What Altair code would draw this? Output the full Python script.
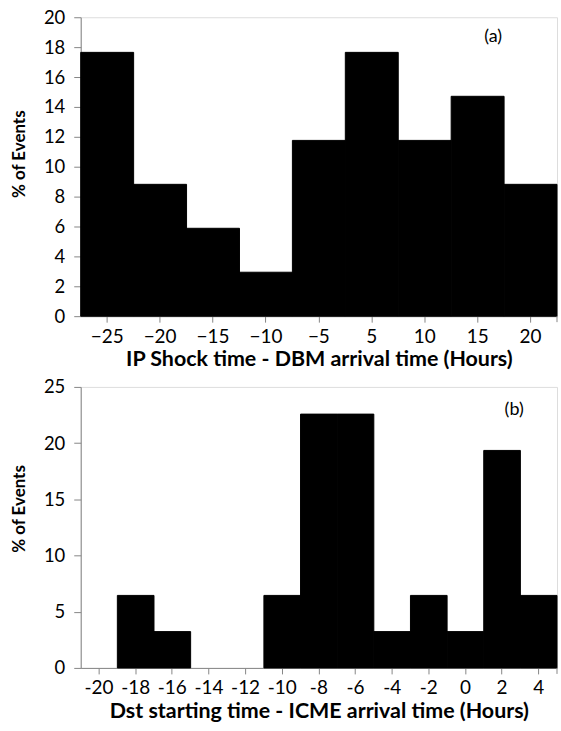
import altair as alt
import pandas as pd

FONT = "Lato"

# Panel (a)
a_cats = ["−25", "−20", "−15", "−10", "−5", "5", "10", "15", "20"]
a_vals = [17.65, 8.82, 5.88, 2.94, 11.76, 17.65, 11.76, 14.71, 8.82]
a_xtitle = "IP Shock time - DBM arrival time (Hours)"
a_tag = "(a)"

# Panel (b)
b_cats = ["-20", "-18", "-16", "-14", "-12", "-10", "-8", "-6", "-4", "-2", "0", "2", "4"]
b_vals = [0, 6.45, 3.23, 0, 0, 6.45, 22.58, 22.58, 3.23, 6.45, 3.23, 19.35, 6.45]
b_xtitle = "Dst starting time - ICME arrival time (Hours)"
b_tag = "(b)"

ytitle = "% of Events"

GREY = "#868686"
W = 478


def panel(cats, vals, xtitle, tag, ymax, ystep, h, tagx, tagy, ytitle_y):
    df = pd.DataFrame({"cat": cats, "val": vals})
    xax = alt.Axis(title=xtitle, labelAngle=0, domainColor=GREY, tickColor=GREY,
                   tickSize=6, labelPadding=5, titlePadding=3,
                   labelFont=FONT, labelFontSize=19, labelColor="black",
                   titleFont=FONT, titleFontSize=21.5, titleFontWeight="bold",
                   titleColor="black")
    yax = alt.Axis(title=ytitle, grid=False, domainColor=GREY, tickColor=GREY,
                   tickSize=7, labelPadding=9,
                   values=list(range(0, ymax + 1, ystep)),
                   labelFont=FONT, labelFontSize=18.5, labelColor="black",
                   titleFont=FONT, titleFontSize=17, titleFontWeight="bold",
                   titleColor="black", titleX=-61.5, titleY=ytitle_y,
                   titleAlign="center", titleBaseline="middle", titleAngle=270)
    bars = alt.Chart(df).transform_filter("datum.val > 0").mark_bar(
        color="black", stroke="black", strokeWidth=1
    ).encode(
        x=alt.X("cat:N", sort=cats, axis=xax,
                scale=alt.Scale(domain=cats, paddingInner=0, paddingOuter=0)),
        y=alt.Y("val:Q", axis=yax, scale=alt.Scale(domain=[0, ymax], nice=False)),
    )
    endtick = alt.Chart(pd.DataFrame({"t": [0]})).mark_rule(color=GREY, strokeWidth=1).encode(
        x=alt.value(W), y=alt.value(h), y2=alt.value(h + 6)
    )
    txt = alt.Chart(pd.DataFrame({"t": [tag]})).mark_text(
        font=FONT, fontSize=18, color="black", align="center", baseline="middle"
    ).encode(text="t:N", x=alt.value(tagx), y=alt.value(tagy))
    return alt.layer(bars, endtick, txt).properties(width=W, height=h)


pa = panel(a_cats, a_vals, a_xtitle, a_tag, 20, 2, 300, 414, 20, 137)
pb = panel(b_cats, b_vals, b_xtitle, b_tag, 25, 5, 282, 435, 23, 122)

chart = alt.vconcat(pa, pb, spacing=6).properties(
    padding={"left": 10, "top": 6, "right": 3, "bottom": 5}
).configure_view(stroke=None).configure(background="white")

chart.save("out.html", embed_options={"renderer": "svg", "actions": False})
